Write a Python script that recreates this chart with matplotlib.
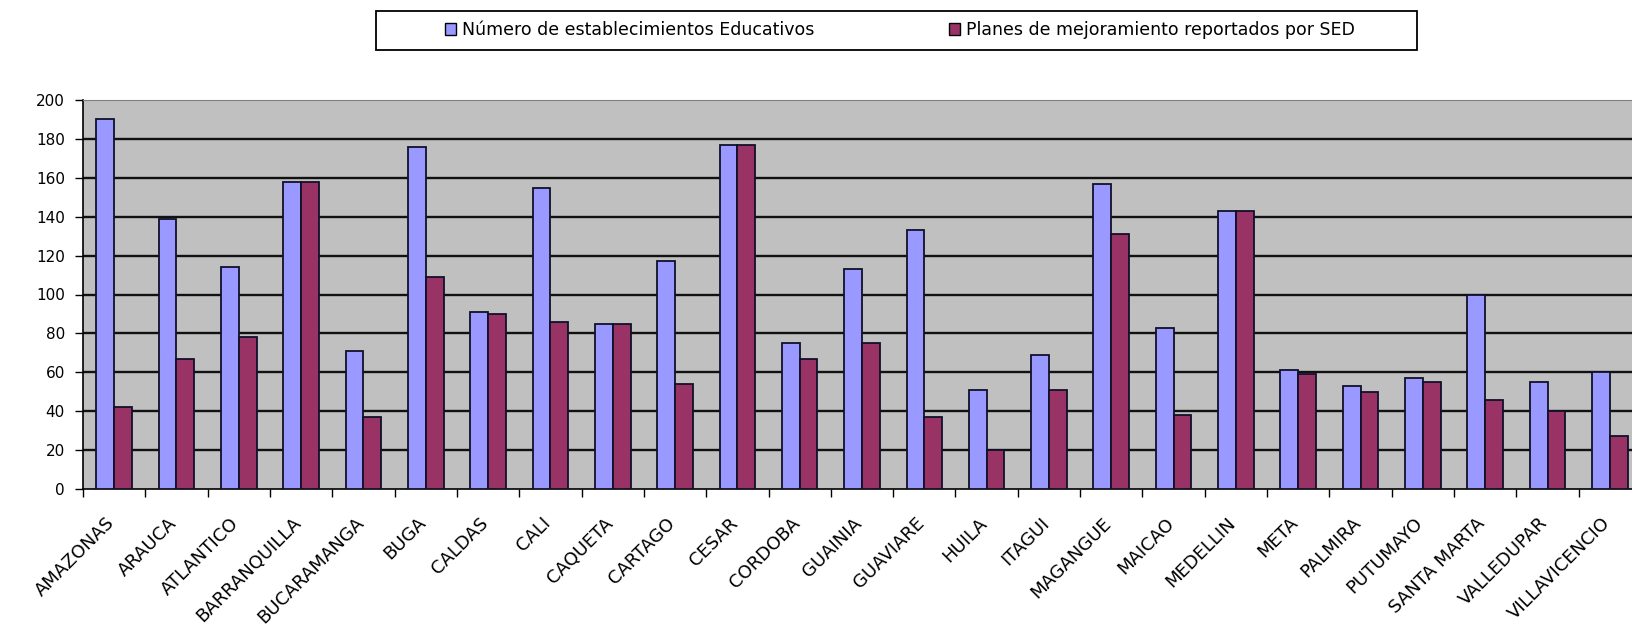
import numpy as np
import matplotlib.pyplot as plt
import matplotlib.transforms as mtransforms
from matplotlib.patches import Patch, Rectangle

plt.rcParams['font.family'] = ['DejaVu Sans']

# Data
ciudades = ["AMAZONAS", "ARAUCA", "ATLANTICO", "BARRANQUILLA", "BUCARAMANGA",
            "BUGA", "CALDAS", "CALI", "CAQUETA", "CARTAGO", "CESAR", "CORDOBA",
            "GUAINIA", "GUAVIARE", "HUILA", "ITAGUI", "MAGANGUE", "MAICAO",
            "MEDELLIN", "META", "PALMIRA", "PUTUMAYO", "SANTA MARTA",
            "VALLEDUPAR", "VILLAVICENCIO"]
establecimientos = [190, 139, 114, 158, 71, 176, 91, 155, 85, 117, 177, 75,
                    113, 133, 51, 69, 157, 83, 143, 61, 53, 57, 100, 55, 60]
planes = [42, 67, 78, 158, 37, 109, 90, 86, 85, 54, 177, 67,
          75, 37, 20, 51, 131, 38, 143, 59, 50, 55, 46, 40, 27]
serie_labels = ["Número de establecimientos Educativos",
                "Planes de mejoramiento reportados por SED"]
yticks = [0, 20, 40, 60, 80, 100, 120, 140, 160, 180, 200]

azul = "#9999FF"
granate = "#993366"

W, H = 1633, 642
fig = plt.figure(figsize=(W / 100, H / 100), dpi=100)
# plot area runs a bit past the right edge of the picture, as in the original
ax = fig.add_axes([83 / W, 1 - 489 / H, (1641 - 83) / W, (489 - 100) / H])
ax.set_facecolor("#C0C0C0")

x = np.arange(len(ciudades))
w = 1 / 3.5  # Excel-like gap width 150%
ax.bar(x - w / 2, establecimientos, w, color=azul, edgecolor="#10102a", linewidth=1.3, zorder=3)
ax.bar(x + w / 2, planes, w, color=granate, edgecolor="#10102a", linewidth=1.3, zorder=3)

ax.set_xlim(-0.5, len(ciudades) - 0.5)
ax.set_ylim(0, 200)
ax.set_yticks(yticks)
ax.tick_params(axis="y", labelsize=11, length=6, width=1, direction="out", pad=7)
for v in yticks[1:-1]:
    ax.axhline(v, color="#111111", linewidth=1.7, zorder=1)

ax.set_xticks(x)
ax.set_xticklabels(ciudades, rotation=45, ha="right", va="top",
                   rotation_mode="anchor", fontsize=13)
ax.tick_params(axis="x", which="major", length=0, pad=18)
shift = mtransforms.ScaledTranslation(-9 / 100, 0, fig.dpi_scale_trans)
for lab in ax.get_xticklabels():
    lab.set_transform(lab.get_transform() + shift)
ax.set_xticks(np.arange(len(ciudades) + 1) - 0.5, minor=True)
ax.tick_params(axis="x", which="minor", length=6, width=1, direction="out")

for s in ["left", "bottom"]:
    ax.spines[s].set_color("black")
    ax.spines[s].set_linewidth(1.2)
ax.spines["top"].set_color("#808080")
ax.spines["right"].set_visible(False)

# legend box and its two entries
fig.patches.append(Rectangle((376 / W, 1 - 50 / H), (1417 - 376) / W, 39 / H,
                             transform=fig.transFigure, facecolor="white",
                             edgecolor="black", linewidth=1.3, zorder=0))
colores = [azul, granate]
x_leg = [445, 949]
for col, lab, xl in zip(colores, serie_labels, x_leg):
    fig.legend([Patch(facecolor=col, edgecolor="black")], [lab],
               loc="center left", bbox_to_anchor=(xl / W, 1 - 30 / H),
               fontsize=12.5, frameon=False, handlelength=0.65, handleheight=0.65,
               handletextpad=0.35, borderaxespad=0, borderpad=0)

fig.savefig("out.png", dpi=100)
